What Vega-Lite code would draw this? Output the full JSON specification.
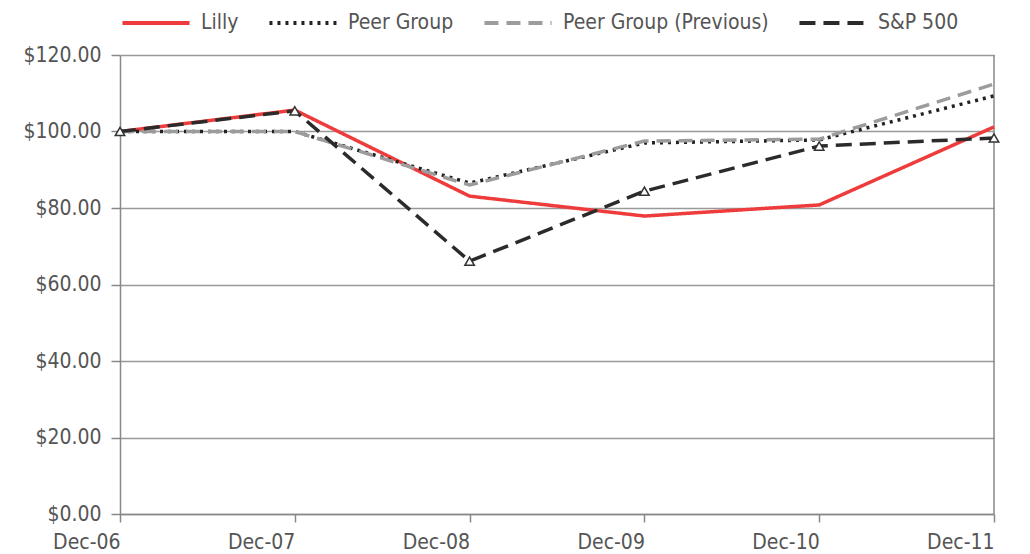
{
  "$schema": "https://vega.github.io/schema/vega-lite/v6.json",
  "width": 874,
  "height": 459,
  "autosize": {"type": "none"},
  "padding": {"left": 120, "top": 55, "right": 36, "bottom": 40},
  "background": "white",
  "config": {
    "view": {"stroke": null},
    "font": "DejaVu Sans Condensed",
    "axis": {"labelFont": "DejaVu Sans Condensed", "labelColor": "#555", "labelFontSize": 21, "domainColor": "#888", "domainWidth": 1.5, "tickColor": "#888", "tickWidth": 1.5},
    "legend": {"labelFont": "DejaVu Sans Condensed", "labelColor": "#555", "labelFontSize": 21, "labelLimit": 400}
  },
  "data": {
    "values": [
      {"date": "Dec-06", "series": "Lilly", "value": 100},
      {"date": "Dec-07", "series": "Lilly", "value": 105.6},
      {"date": "Dec-08", "series": "Lilly", "value": 83.1},
      {"date": "Dec-09", "series": "Lilly", "value": 77.9},
      {"date": "Dec-10", "series": "Lilly", "value": 80.8},
      {"date": "Dec-11", "series": "Lilly", "value": 101.2},
      {"date": "Dec-06", "series": "Peer Group", "value": 100},
      {"date": "Dec-07", "series": "Peer Group", "value": 100},
      {"date": "Dec-08", "series": "Peer Group", "value": 86.5},
      {"date": "Dec-09", "series": "Peer Group", "value": 97},
      {"date": "Dec-10", "series": "Peer Group", "value": 97.8},
      {"date": "Dec-11", "series": "Peer Group", "value": 109.3},
      {"date": "Dec-06", "series": "Peer Group (Previous)", "value": 100},
      {"date": "Dec-07", "series": "Peer Group (Previous)", "value": 100},
      {"date": "Dec-08", "series": "Peer Group (Previous)", "value": 86},
      {"date": "Dec-09", "series": "Peer Group (Previous)", "value": 97.5},
      {"date": "Dec-10", "series": "Peer Group (Previous)", "value": 98},
      {"date": "Dec-11", "series": "Peer Group (Previous)", "value": 112.4},
      {"date": "Dec-06", "series": "S&P 500", "value": 100},
      {"date": "Dec-07", "series": "S&P 500", "value": 105.4},
      {"date": "Dec-08", "series": "S&P 500", "value": 66.1},
      {"date": "Dec-09", "series": "S&P 500", "value": 84.4},
      {"date": "Dec-10", "series": "S&P 500", "value": 96.2},
      {"date": "Dec-11", "series": "S&P 500", "value": 98.3}
    ]
  },
  "layer": [
    {
      "mark": {"type": "rule", "color": "#888", "strokeWidth": 1.5},
      "data": {"values": [{"date": "Dec-11"}]},
      "encoding": {"x": {"field": "date", "type": "ordinal", "scale": {"type": "point", "padding": 0}}}
    },
    {
      "mark": {"type": "line", "strokeWidth": 3.5},
      "encoding": {
        "x": {"field": "date", "type": "ordinal", "scale": {"type": "point", "padding": 0},
              "axis": {"title": null, "labelAngle": 0, "tickSize": 8, "labelPadding": 20, "grid": false}},
        "y": {"field": "value", "type": "quantitative", "scale": {"domain": [0, 120]},
              "axis": {"title": null, "values": [0, 20, 40, 60, 80, 100, 120], "format": "$.2f", "tickSize": 9, "labelPadding": 10, "grid": true, "gridColor": "#999", "gridWidth": 1.5}},
        "color": {"field": "series", "type": "nominal",
                  "scale": {"domain": ["Lilly", "Peer Group", "Peer Group (Previous)", "S&P 500"], "range": ["#ee3b3b", "#222222", "#9c9c9c", "#2b2b2b"]},
                  "legend": {"title": null, "orient": "none", "direction": "horizontal", "legendX": 0, "legendY": -68, "symbolType": "stroke", "symbolSize": 4500, "symbolStrokeWidth": 4, "labelOffset": 9, "columnPadding": 22}},
        "strokeDash": {"field": "series", "type": "nominal",
                  "scale": {"domain": ["Lilly", "Peer Group", "Peer Group (Previous)", "S&P 500"], "range": [[1, 0], [3, 5], [14, 8], [16, 8]]},
                  "legend": null},
        "order": {"field": "series", "sort": "descending"}
      }
    },
    {
      "mark": {"type": "point", "shape": "triangle-up", "filled": true, "fill": "white", "stroke": "#333", "strokeWidth": 1.5, "size": 90, "opacity": 1},
      "transform": [{"filter": "datum.series === 'S&P 500'"}],
      "encoding": {
        "x": {"field": "date", "type": "ordinal", "scale": {"type": "point", "padding": 0}},
        "y": {"field": "value", "type": "quantitative"}
      }
    }
  ]
}
